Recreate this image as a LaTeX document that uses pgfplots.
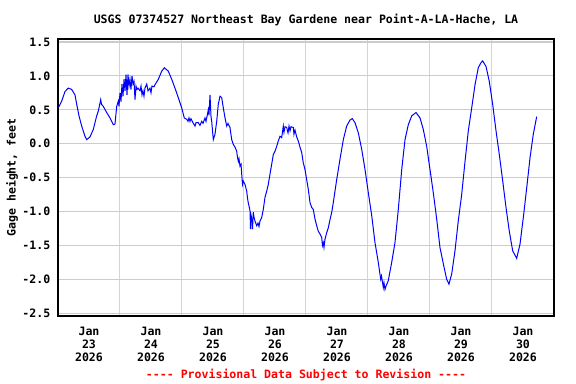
\documentclass[border=0pt]{standalone}
\usepackage{pgfplots}
\pgfplotsset{compat=1.18}
\usepackage{fontspec}
\newfontfamily\mono{DejaVu Sans Mono}
\newcommand{\lab}{\mono\bfseries\fontsize{11.6}{13}\selectfont}
\definecolor{gridgray}{RGB}{204,204,204}
\begin{document}
\begin{tikzpicture}
\useasboundingbox (-58bp,-68bp) rectangle (518bp,316bp);
\begin{axis}[
  scale only axis, width=496bp, height=277bp,
  xmin=0, xmax=8, ymin=-2.54, ymax=1.544,
  xtick={1,2,3,4,5,6,7},
  xticklabels={},
  xmajorgrids, ymajorgrids,
  extra x ticks={0.5,1.5,2.5,3.5,4.5,5.5,6.5,7.5},
  extra x tick labels={{Jan\\23\\2026},{Jan\\24\\2026},{Jan\\25\\2026},{Jan\\26\\2026},{Jan\\27\\2026},{Jan\\28\\2026},{Jan\\29\\2026},{Jan\\30\\2026}},
  extra x tick style={grid=none, xticklabel style={align=center, anchor=north, inner sep=0pt, yshift=-11bp, font=\lab}},
  ytick={-2.5,-2,-1.5,-1,-0.5,0,0.5,1,1.5},
  yticklabels={{-2.5},{-2.0},{-1.5},{-1.0},{-0.5},{0.0},{0.5},{1.0},{1.5}},
  yticklabel style={anchor=east, inner sep=0pt, xshift=-7.5bp, font=\lab},
  major tick length=0pt,
  major grid style={gridgray, line width=1.1bp},
  x grid style={gridgray!85, line width=1bp},
  axis line style={black, line width=1.5bp},
]
\addplot[blue, line width=1bp, mark=none] coordinates {
(0.005,0.53)(0.060,0.63)(0.113,0.77)(0.166,0.82)(0.221,0.80)(0.274,0.72)(0.302,0.58)(0.339,0.41)(0.382,0.26)(0.435,0.11)(0.463,0.06)(0.516,0.10)(0.569,0.21)(0.624,0.41)(0.650,0.48)(0.689,0.65)(0.702,0.58)(0.731,0.55)(0.785,0.46)(0.839,0.38)(0.892,0.28)(0.919,0.29)(0.947,0.55)(0.973,0.63)
(0.984,0.55)(1.000,0.75)(1.016,0.62)(1.032,0.88)(1.048,0.70)(1.065,0.95)(1.081,0.78)(1.097,1.02)(1.113,0.72)(1.129,1.02)(1.145,0.85)(1.161,0.95)(1.177,0.80)(1.194,1.00)(1.210,0.88)(1.226,0.92)(1.242,0.65)(1.258,0.85)(1.274,0.80)(1.290,0.82)(1.323,0.78)(1.339,0.85)(1.355,0.72)(1.371,0.78)(1.387,0.70)(1.403,0.82)(1.431,0.88)(1.452,0.78)(1.484,0.82)(1.500,0.75)(1.516,0.85)(1.548,0.84)(1.565,0.87)(1.618,0.95)(1.673,1.07)(1.715,1.12)(1.779,1.07)(1.834,0.95)(1.887,0.82)(1.940,0.68)(1.995,0.53)(2.037,0.38)
(2.076,0.36)(2.097,0.33)(2.113,0.38)(2.129,0.33)(2.145,0.37)(2.177,0.31)(2.210,0.26)(2.226,0.31)(2.263,0.31)(2.290,0.27)(2.318,0.33)(2.339,0.30)(2.371,0.38)(2.387,0.33)(2.403,0.40)(2.424,0.50)(2.435,0.42)(2.452,0.72)(2.468,0.40)(2.479,0.33)(2.505,0.06)(2.532,0.14)(2.560,0.33)(2.585,0.58)(2.613,0.70)(2.640,0.68)(2.666,0.53)(2.694,0.38)(2.721,0.26)(2.742,0.30)(2.774,0.24)(2.802,0.06)(2.827,-0.01)(2.855,-0.05)(2.882,-0.11)(2.895,-0.20)(2.908,-0.26)(2.919,-0.22)(2.935,-0.33)(2.952,-0.30)(2.963,-0.45)(2.976,-0.60)(2.989,-0.55)(3.016,-0.60)(3.044,-0.70)(3.056,-0.80)(3.069,-0.87)(3.081,-0.92)(3.097,-0.99)(3.105,-1.26)(3.113,-1.05)(3.124,-1.09)(3.137,-1.26)(3.150,-1.01)(3.161,-1.08)(3.177,-1.14)(3.194,-1.18)(3.205,-1.21)(3.226,-1.17)(3.242,-1.22)(3.258,-1.14)(3.285,-1.09)(3.311,-0.97)(3.339,-0.79)(3.366,-0.70)(3.392,-0.60)(3.419,-0.45)(3.447,-0.30)(3.473,-0.16)(3.500,-0.11)(3.527,-0.04)(3.553,0.04)(3.581,0.11)(3.608,0.09)(3.634,0.26)(3.645,0.17)(3.661,0.25)(3.689,0.24)(3.710,0.16)(3.726,0.26)(3.742,0.19)(3.758,0.25)(3.795,0.24)(3.806,0.14)(3.823,0.20)(3.850,0.10)(3.876,0.04)(3.903,-0.05)(3.931,-0.13)(3.956,-0.28)(3.984,-0.38)(4.011,-0.53)(4.037,-0.67)(4.065,-0.87)(4.092,-0.94)(4.118,-0.97)(4.145,-1.11)(4.173,-1.21)(4.198,-1.29)(4.226,-1.33)(4.253,-1.38)(4.266,-1.50)(4.279,-1.46)(4.290,-1.53)(4.306,-1.41)(4.334,-1.31)(4.360,-1.24)(4.387,-1.12)(4.415,-1.01)(4.440,-0.87)(4.495,-0.53)(4.548,-0.23)(4.602,0.06)(4.656,0.26)(4.710,0.35)(4.747,0.37)(4.790,0.31)(4.844,0.16)(4.898,-0.08)(4.952,-0.38)(5.005,-0.72)(5.060,-1.06)(5.113,-1.46)(5.166,-1.75)(5.205,-2.00)(5.218,-1.95)(5.247,-2.12)(5.258,-2.05)(5.274,-2.15)(5.290,-2.10)(5.327,-2.02)(5.382,-1.75)(5.435,-1.46)(5.489,-0.97)(5.544,-0.38)(5.597,0.06)(5.650,0.28)(5.705,0.41)(5.774,0.46)(5.839,0.38)(5.892,0.21)(5.947,-0.04)(6.000,-0.38)(6.053,-0.72)(6.108,-1.11)(6.161,-1.53)(6.215,-1.77)(6.269,-2.00)(6.306,-2.07)(6.350,-1.92)(6.403,-1.58)(6.456,-1.14)(6.511,-0.75)(6.565,-0.26)(6.618,0.19)(6.673,0.53)(6.726,0.87)(6.779,1.12)(6.818,1.19)(6.850,1.22)(6.903,1.14)(6.956,0.92)(7.011,0.58)(7.065,0.19)(7.118,-0.16)(7.173,-0.55)(7.226,-0.94)(7.279,-1.29)(7.334,-1.58)(7.398,-1.69)(7.452,-1.48)(7.505,-1.09)(7.560,-0.65)(7.613,-0.21)(7.666,0.14)(7.721,0.40)
};
\end{axis}
\node[font=\lab] at (248bp,296bp) {USGS 07374527 Northeast Bay Gardene near Point-A-LA-Hache, LA};
\node[font=\lab, rotate=90] at (-46bp,138.5bp) {Gage height, feet};
\node[font=\lab, text=red] at (248bp,-59bp) {---- Provisional Data Subject to Revision ----};
\end{tikzpicture}
\end{document}
